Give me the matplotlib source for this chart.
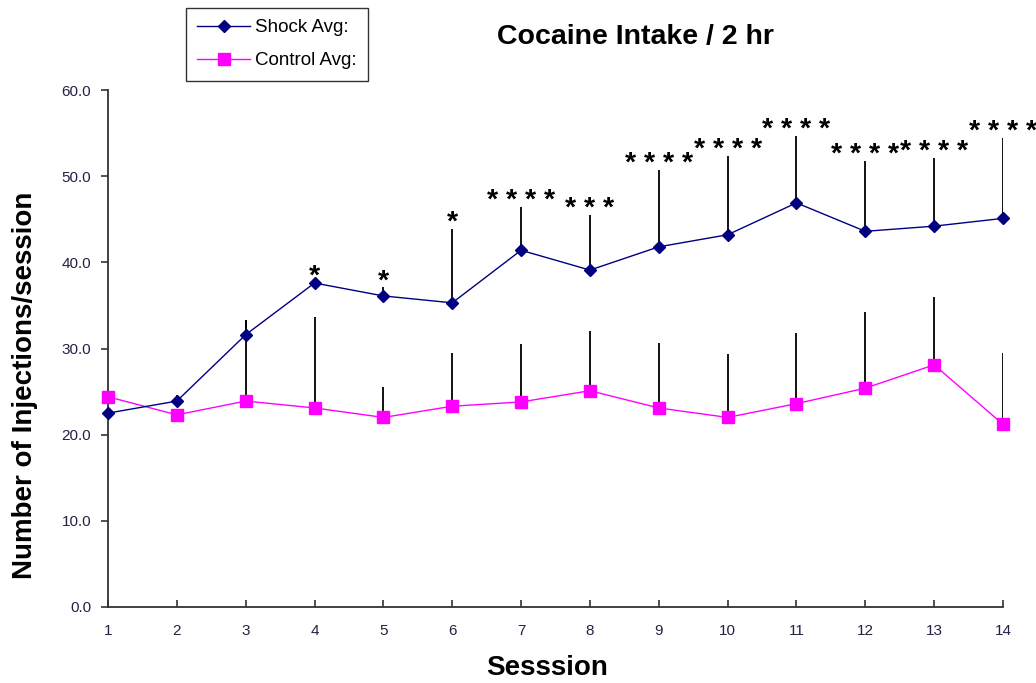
import matplotlib
matplotlib.use("Agg")
import matplotlib.pyplot as plt
import numpy as np

plt.rcParams['font.family'] = ['Liberation Sans', 'DejaVu Sans']

sessions = list(range(1, 15))
shock_avg = [22.5, 23.9, 31.6, 37.6, 36.1, 35.3, 41.4, 39.1, 41.8, 43.2, 46.9, 43.6, 44.2, 45.1]
shock_err = [0.0, 0.7, 1.7, 0.0, 1.0, 8.6, 5.0, 6.4, 8.9, 9.1, 7.8, 8.2, 7.9, 9.3]
control_avg = [24.4, 22.3, 23.9, 23.1, 22.0, 23.3, 23.8, 25.1, 23.1, 22.0, 23.6, 25.4, 28.1, 21.2]
control_err = [0.0, 0.0, 9.4, 10.5, 3.5, 6.2, 6.7, 6.9, 7.5, 7.4, 8.2, 8.8, 7.9, 8.3]
signif = ["", "", "", "*", "*", "*", "****", "***", "****", "****", "****", "****", "****", "****"]
yticks = [0, 10, 20, 30, 40, 50, 60]

fig = plt.figure(figsize=(10.36, 6.83), dpi=100)
ax = fig.add_axes([108/1036, 1-607/683, (1003-108)/1036, (607-90)/683])

x = np.array(sessions)
sa = np.array(shock_avg); se = np.array(shock_err)
ca = np.array(control_avg); ce = np.array(control_err)

ax.vlines(x, ca, ca + ce, color='black', lw=1.3, zorder=2)
ax.vlines(x, sa, sa + se, color='black', lw=1.3, zorder=2)

ax.plot(x, sa, color='#000080', lw=1.0, marker='D', ms=6.5, mfc='#000080', mec='#000080',
        label='Shock Avg:', clip_on=False, zorder=4)
ax.plot(x, ca, color='#FF00FF', lw=1.0, marker='s', ms=8, mfc='#FF00FF', mec='#FF00FF',
        label='Control Avg:', clip_on=False, zorder=3)

for xi, s, top in zip(x, signif, np.maximum(sa + se, sa)):
    if s:
        ax.annotate(" ".join(s), xy=(xi, top), xytext=(0, -5), textcoords='offset points',
                    ha='center', va='bottom', fontsize=20.5, fontweight='bold', color='black',
                    annotation_clip=False, zorder=5)

ax.set_xlim(1, 14)
ax.set_ylim(0, 60)
ax.set_xticks(sessions)
ax.set_xticklabels([str(s) for s in sessions])
ax.set_yticks(yticks)
ax.set_yticklabels([f"{v:.1f}" for v in yticks])
for sp in ['top', 'right']:
    ax.spines[sp].set_visible(False)
for sp in ['left', 'bottom']:
    ax.spines[sp].set_color('#333333')
    ax.spines[sp].set_linewidth(1.3)
ax.tick_params(axis='x', direction='in', length=5, width=1.2, color='#333333', labelsize=11, pad=12, labelcolor='#222244')
ax.tick_params(axis='y', direction='out', length=5, width=1.2, color='#333333', labelsize=11, pad=7, labelcolor='#222244')

fig.text(635/1036, 1-37/683, "Cocaine Intake / 2 hr", ha='center', va='center', fontsize=20.5, fontweight='bold')
fig.text(25/1036, 1-385/683, "Number of Injections/session", ha='center', va='center', rotation=90,
         fontsize=20, fontweight='bold')
fig.text(547/1036, 1-668/683, "Sesssion", ha='center', va='center', fontsize=20, fontweight='bold')

leg = fig.legend(loc='upper left', bbox_to_anchor=(186/1036, 1-8/683), fontsize=13.5, frameon=True,
                 fancybox=False, edgecolor='black', handlelength=2.8, borderpad=0.6, labelspacing=0.85,
                 handletextpad=0.3, borderaxespad=0)
leg.get_frame().set_linewidth(1.0)
for h in leg.legend_handles:
    h.set_markersize(6.5 if h.get_marker() == 'D' else 8)

fig.savefig("out.png", dpi=100)
